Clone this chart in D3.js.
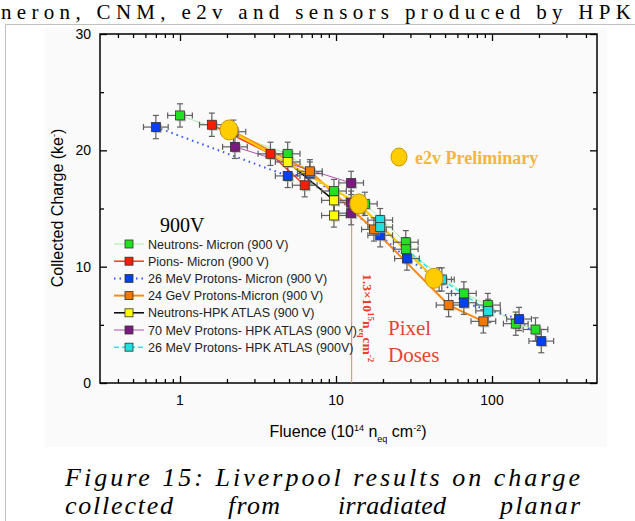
<!DOCTYPE html>
<html>
<head>
<meta charset="utf-8">
<script src="https://cdn.jsdelivr.net/npm/d3@7"></script>
<style>
  body { margin: 0; background: #fff; }
  svg { display: block; }
</style>
</head>
<body>
<div id="root"></div>
<script>
// values: [fluence (1e14 neq/cm2), charge (ke-)]
var neutronsMicron = [[1.0, 23.0], [4.9, 19.7], [9.7, 16.5], [15.3, 15.4], [28, 12.1], [28, 11.5], [66, 7.7], [94, 6.7], [142, 5.1], [190, 4.6]];
var pionsMicron = [[1.6, 22.2], [3.8, 19.7], [6.3, 17.0]];
var protons26Micron = [[0.7, 22.0], [4.9, 17.8], [6.8, 18.0], [19.2, 12.7], [28.5, 10.7], [45.8, 8.9], [66, 6.9], [149, 5.5], [207, 3.6]];
var protons24Micron = [[2.2, 21.6], [6.8, 18.2], [17.5, 13.2], [52.7, 6.7], [88, 5.3]];
var neutronsHPK = [[4.9, 19.0], [9.7, 15.7], [9.7, 14.4]];
var protons70HPK = [[2.25, 20.3], [12.5, 17.2], [12.5, 15.5], [12.5, 14.6]];
var protons26HPK = [[19.2, 14.0], [19.2, 13.4], [47.7, 8.9], [94.5, 6.2]];
var e2vPoints = [[2.06, 21.75], [14.0, 15.4], [42.5, 9.0]];

var seriesNames = [
    "Neutrons- Micron (900 V)",
    "Pions- Micron (900 V)",
    "26 MeV Protons- Micron (900 V)",
    "24 GeV Protons-Micron (900 V)",
    "Neutrons-HPK ATLAS (900 V)",
    "70 MeV Protons- HPK ATLAS (900 V)",
    "26 MeV Protons- HPK ATLAS (900V)"
];
var xTickLabels = [1, 10, 100];
var yTickLabels = [0, 10, 20, 30];
var xErrFactor = 1.2;   // horizontal error, multiplicative
var yErr = 1.0;         // vertical error, ke-
var pixelDose = 12.6;   // 1.3e15 line

var series = [
    { data: neutronsMicron, fill: "#22e022", line: "#a8eea8", width: 1, dash: null },
    { data: pionsMicron, fill: "#f02000", line: "#ff3a1a", width: 1.5, dash: null },
    { data: protons26Micron, fill: "#0040f0", line: "#3355ff", width: 2, dash: "1.5,4" },
    { data: protons24Micron, fill: "#f07800", line: "#ff8c10", width: 2, dash: null },
    { data: neutronsHPK, fill: "#ffff00", line: "#000", width: 1.5, dash: null },
    { data: protons70HPK, fill: "#7a1a80", line: "#b050b0", width: 1, dash: null },
    { data: protons26HPK, fill: "#20e0e0", line: "#20e8f0", width: 1.5, dash: "5,3" }
];

var svg = d3.select("#root").append("svg")
    .attr("width", 635)
    .attr("height", 521);

// page bits around the figure
svg.append("text")
    .attr("x", 1).attr("y", 19)
    .attr("textLength", 630).attr("lengthAdjust", "spacing")
    .style("font-family", "Liberation Serif, Times New Roman, serif")
    .style("font-size", "21px")
    .text("neron, CNM, e2v and sensors produced by HPK");

svg.append("path")
    .attr("d", "M5.5,521 V24.5 H635")
    .attr("fill", "none")
    .attr("stroke", "#c0c0c0");

svg.append("rect")
    .attr("x", 45).attr("y", 28).attr("width", 562).attr("height", 419)
    .attr("fill", "#fafafa");

var plotLeft = 100, plotRight = 597, plotTop = 34, plotBottom = 383;
var x = d3.scaleLog().domain([0.307, 471]).range([plotLeft, plotRight]);
var y = d3.scaleLinear().domain([0, 30]).range([plotBottom, plotTop]);

// minor tick values for the log axis
var minorX = [];
[0.1, 1, 10, 100].forEach(function (dec) {
    for (var i = 2; i <= 9; i++) {
        var v = dec * i;
        if (v > 0.307 && v < 471) minorX.push(v);
    }
});

function axisX(g, ypos, axisFn) {
    g.append("g").attr("transform", "translate(0," + ypos + ")")
        .call(axisFn(x).tickValues(xTickLabels).tickSize(-7).tickFormat(""));
    g.append("g").attr("transform", "translate(0," + ypos + ")")
        .call(axisFn(x).tickValues(minorX).tickSize(-4).tickFormat(""));
}
function axisY(g, xpos, axisFn) {
    g.append("g").attr("transform", "translate(" + xpos + ",0)")
        .call(axisFn(y).tickValues(yTickLabels).tickSize(-7).tickFormat(""));
    g.append("g").attr("transform", "translate(" + xpos + ",0)")
        .call(axisFn(y).tickValues([5, 15, 25]).tickSize(-4).tickFormat(""));
}

var axes = svg.append("g").attr("class", "axes");
axisX(axes, plotBottom, d3.axisBottom);
axisX(axes, plotTop, d3.axisTop);
axisY(axes, plotLeft, d3.axisLeft);
axisY(axes, plotRight, d3.axisRight);
axes.selectAll(".domain").remove();
axes.selectAll("line").attr("stroke", "#000").attr("stroke-width", 1.3);

svg.append("rect")
    .attr("x", plotLeft).attr("y", plotTop)
    .attr("width", plotRight - plotLeft).attr("height", plotBottom - plotTop)
    .attr("fill", "none").attr("stroke", "#000").attr("stroke-width", 1.5);

var tickFont = "Liberation Sans, Arial, sans-serif";
svg.append("g").selectAll("text").data(xTickLabels).enter().append("text")
    .attr("x", function (d) { return x(d); })
    .attr("y", 405)
    .attr("text-anchor", "middle")
    .style("font-family", tickFont).style("font-size", "14px")
    .text(function (d) { return d; });

svg.append("g").selectAll("text").data(yTickLabels).enter().append("text")
    .attr("x", 91)
    .attr("y", function (d) { return y(d) + 5; })
    .attr("text-anchor", "end")
    .style("font-family", tickFont).style("font-size", "14px")
    .text(function (d) { return d; });

// axis titles
var xt = svg.append("text")
    .attr("x", 348).attr("y", 437)
    .attr("text-anchor", "middle")
    .style("font-family", tickFont).style("font-size", "16px");
xt.append("tspan").text("Fluence (10");
xt.append("tspan").attr("dy", -6).style("font-size", "9px").text("14");
xt.append("tspan").attr("dy", 6).text(" n");
xt.append("tspan").attr("dy", 5).style("font-size", "9px").text("eq");
xt.append("tspan").attr("dy", -5).text(" cm");
xt.append("tspan").attr("dy", -6).style("font-size", "9px").text("-2");
xt.append("tspan").attr("dy", 6).text(")");

var yt = svg.append("text")
    .attr("transform", "translate(63,208) rotate(-90)")
    .attr("text-anchor", "middle")
    .style("font-family", tickFont).style("font-size", "16px");
yt.append("tspan").text("Collected Charge (ke");
yt.append("tspan").attr("dy", -6).style("font-size", "9px").text("-");
yt.append("tspan").attr("dy", 6).text(")");

// pixel dose line
svg.append("line")
    .attr("x1", x(pixelDose)).attr("x2", x(pixelDose))
    .attr("y1", y(0)).attr("y2", y(14))
    .attr("stroke", "#e88070").attr("stroke-width", 1);

var rt = svg.append("text")
    .attr("transform", "translate(363,274) rotate(90)")
    .attr("fill", "#e8402a")
    .style("font-family", "Liberation Serif, Times New Roman, serif")
    .style("font-weight", "bold").style("font-size", "13.5px");
rt.append("tspan").text("1.3\u00d710");
rt.append("tspan").attr("dy", -5).style("font-size", "9px").text("15");
rt.append("tspan").attr("dy", 5).text("n");
rt.append("tspan").attr("dy", 4).style("font-size", "9px").text("eq");
rt.append("tspan").attr("dy", -4).text("cm");
rt.append("tspan").attr("dy", -5).style("font-size", "9px").text("-2");

// lines
var line = d3.line()
    .x(function (d) { return x(d[0]); })
    .y(function (d) { return y(d[1]); });

var plot = svg.append("g");
series.forEach(function (s) {
    plot.append("path")
        .datum(s.data)
        .attr("d", line)
        .attr("fill", "none")
        .attr("stroke", s.line)
        .attr("stroke-width", s.width)
        .attr("stroke-dasharray", s.dash);
});
plot.append("path")
    .datum(e2vPoints)
    .attr("d", line)
    .attr("fill", "none")
    .attr("stroke", "#ffc800")
    .attr("stroke-width", 2.2);

// error bars
series.forEach(function (s) {
    var g = plot.append("g").attr("stroke", "#606060").attr("stroke-width", 1.2);
    s.data.forEach(function (d) {
        var cx = x(d[0]), cy = y(d[1]);
        var x0 = x(d[0] / xErrFactor), x1 = x(d[0] * xErrFactor);
        var y0 = y(d[1] - yErr), y1 = y(d[1] + yErr);
        g.append("line").attr("x1", x0).attr("x2", x1).attr("y1", cy).attr("y2", cy);
        g.append("line").attr("x1", x0).attr("x2", x0).attr("y1", cy - 3).attr("y2", cy + 3);
        g.append("line").attr("x1", x1).attr("x2", x1).attr("y1", cy - 3).attr("y2", cy + 3);
        g.append("line").attr("x1", cx).attr("x2", cx).attr("y1", y0).attr("y2", y1);
        g.append("line").attr("x1", cx - 3).attr("x2", cx + 3).attr("y1", y0).attr("y2", y0);
        g.append("line").attr("x1", cx - 3).attr("x2", cx + 3).attr("y1", y1).attr("y2", y1);
    });
});

// square markers
var ms = 9;
series.forEach(function (s) {
    var g = plot.append("g");
    g.selectAll(".shadow").data(s.data).enter().append("rect")
        .attr("x", function (d) { return x(d[0]) - ms / 2 + 1.5; })
        .attr("y", function (d) { return y(d[1]) - ms / 2 + 1.5; })
        .attr("width", ms).attr("height", ms)
        .attr("fill", "#999").attr("opacity", 0.6);
    g.selectAll(".mark").data(s.data).enter().append("rect")
        .attr("x", function (d) { return x(d[0]) - ms / 2; })
        .attr("y", function (d) { return y(d[1]) - ms / 2; })
        .attr("width", ms).attr("height", ms)
        .attr("fill", s.fill)
        .attr("stroke", "#333").attr("stroke-width", 0.8);
});

// e2v circles
plot.selectAll(".e2v").data(e2vPoints).enter().append("ellipse")
    .attr("cx", function (d) { return x(d[0]); })
    .attr("cy", function (d) { return y(d[1]); })
    .attr("rx", 9).attr("ry", 10)
    .attr("fill", "#ffcc00")
    .attr("stroke", "#c89a00").attr("stroke-width", 1);

svg.append("ellipse")
    .attr("cx", 399).attr("cy", 157).attr("rx", 8).attr("ry", 9)
    .attr("fill", "#ffcc00").attr("stroke", "#c89a00");
svg.append("text")
    .attr("x", 415).attr("y", 164)
    .attr("fill", "#f4b540")
    .style("font-family", "Liberation Serif, Times New Roman, serif")
    .style("font-weight", "bold").style("font-size", "18px")
    .text("e2v Preliminary");

// annotations
svg.append("text")
    .attr("x", 160).attr("y", 232)
    .style("font-family", "Liberation Serif, Times New Roman, serif")
    .style("font-size", "20px")
    .text("900V");

var doses = svg.append("g")
    .attr("fill", "#e8442f")
    .style("font-family", "Liberation Serif, Times New Roman, serif")
    .style("font-size", "21px");
doses.append("text").attr("x", 388).attr("y", 335).text("Pixel");
doses.append("text").attr("x", 388).attr("y", 362).text("Doses");

// legend
var legend = svg.append("g");
series.forEach(function (s, i) {
    var ly = 244 + i * 17.2;
    legend.append("line")
        .attr("x1", 114).attr("x2", 144).attr("y1", ly).attr("y2", ly)
        .attr("stroke", s.line).attr("stroke-width", s.width)
        .attr("stroke-dasharray", s.dash);
    legend.append("rect")
        .attr("x", 125).attr("y", ly - 4).attr("width", 8).attr("height", 8)
        .attr("fill", s.fill).attr("stroke", "#333").attr("stroke-width", 0.8);
    legend.append("text")
        .attr("x", 148).attr("y", ly + 4.5)
        .attr("fill", "#222")
        .style("font-family", tickFont).style("font-size", "12.5px")
        .text(seriesNames[i]);
});

// caption
var cap = svg.append("g")
    .style("font-family", "Liberation Serif, Times New Roman, serif")
    .style("font-style", "italic").style("font-size", "26px");
cap.append("text").attr("x", 65).attr("y", 486)
    .attr("textLength", 515).attr("lengthAdjust", "spacing")
    .text("Figure 15: Liverpool results on charge");
var words = [["collected", 65, 108], ["from", 228, 52], ["irradiated", 338, 108], ["planar", 500, 80]];
words.forEach(function (w) {
    cap.append("text").attr("x", w[1]).attr("y", 514)
        .attr("textLength", w[2]).attr("lengthAdjust", "spacing")
        .text(w[0]);
});
</script>
</body>
</html>
